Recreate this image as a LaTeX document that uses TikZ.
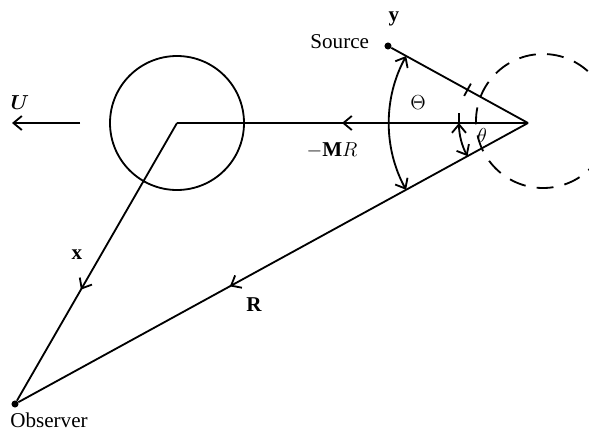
\documentclass[tikz,border=0pt]{standalone}
\usepackage{amsmath}
\usepackage{fontspec}
\setmainfont{Liberation Serif}
\usetikzlibrary{arrows.meta, angles, decorations.markings}

\begin{document}
\begin{tikzpicture}[
    x=0.025cm, y=0.025cm,
    line/.style={line width=1.3pt},
    barb/.style={-{Straight Barb[length=6pt, width=10pt]}},
    dbarb/.style={{Straight Barb[length=6pt, width=10pt]}-{Straight Barb[length=6pt, width=10pt]}},
    midarrow/.style={postaction={decorate}, decoration={markings, mark=at position #1 with {\arrow{Straight Barb[length=6pt, width=10pt]}}}},
    dot/.style={circle, fill, inner sep=0pt, minimum size=5pt},
    every node/.style={font=\fontsize{15}{18}\selectfont}
]
\useasboundingbox (0,0) rectangle (589,430);

\coordinate (ctr) at (177,307);
\coordinate (emit) at (528,307);
\node[dot] (src) at (388,384) {};
\node[dot] (obs) at (15,26) {};

% bodies
\draw[line] (ctr) circle[radius=67];
\draw[line, dash pattern=on 12pt off 8pt] (543,309) circle[radius=67];

% rays
\draw[line, midarrow=0.53] (emit) -- (ctr);
\draw[line, midarrow=0.6] (ctr) -- (obs);
\draw[line, midarrow=0.585] (emit) -- (obs);
\draw[line] (src) -- (emit);

% angles
\pic[draw, line, dbarb, angle radius=3.475cm] {angle = src--emit--obs};
\pic[draw, line, dbarb, angle radius=1.725cm] {angle = ctr--emit--obs};
\draw[line] ([shift={(180:69)}]emit) ++(0,10) -- ++(0,-15);
\draw[line] ([shift={(151.2:69)}]emit) ++(61.2:7) -- ++(241.2:14);

% flow
\coordinate (ustart) at (80,307);
\coordinate (uend) at (12,307);
\draw[line, barb] (ustart) -- (uend);

% labels
\node (ulab) at (20,327) {$\boldsymbol{U}$};
\node (ylab) at (394,411) {\textbf{y}};
\node[anchor=east] (srclab) at (374,388) {Source};
\node (thetabig) at (418,327) {$\Theta$};
\node (thetasmall) at (482,295) {$\theta$};
\node (mrlab) at (332,280) {$-\mathbf{M}R$};
\node (xlab) at (77,175) {\textbf{x}};
\node (rlab) at (254,125) {\textbf{R}};
\node (obslab) at (49,10) {Observer};

\end{tikzpicture}
\end{document}
